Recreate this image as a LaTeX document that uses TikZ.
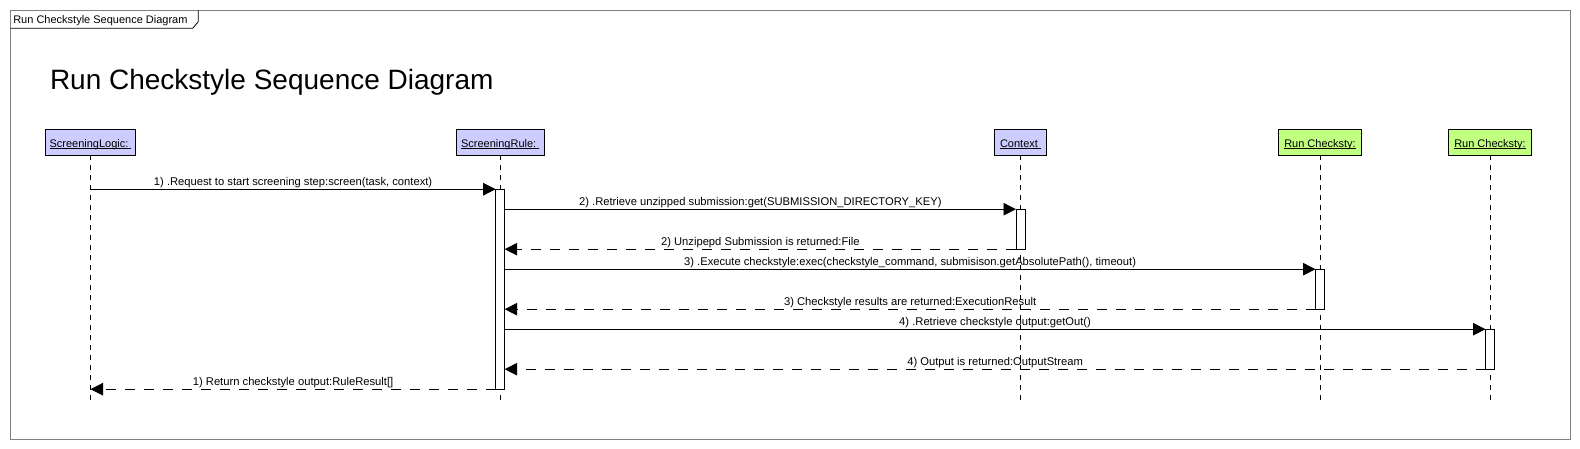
\documentclass[tikz,border=0pt]{standalone}
\usepackage{fontspec}
\setmainfont{Liberation Sans}
\usetikzlibrary{arrows.meta}
\definecolor{lav}{HTML}{CCCCFF}
\definecolor{lime}{HTML}{C0FF80}
\definecolor{framegray}{HTML}{808080}
\newcommand\ulabel[1]{\setbox0=\hbox{#1}\rlap{\rule[-1.8pt]{\wd0}{0.8pt}}\box0}
\begin{document}
\begin{tikzpicture}[x=1pt,y=-1pt,
  every node/.style={inner sep=0pt, outer sep=0pt},
  head/.style={draw=black, line width=0.8pt, minimum height=26pt, text height=10pt, text depth=0pt, font=\fontsize{11}{13}\selectfont},
  lifeline/.style={draw=black, line width=0.8pt, dash pattern=on 5pt off 5pt},
  act/.style={draw=black, fill=white, line width=0.8pt, minimum width=9pt},
  call/.style={draw=black, line width=0.8pt, -{Triangle[length=12.5pt, width=12.5pt]}},
  ret/.style={draw=black, line width=0.8pt, dash pattern=on 10pt off 9pt, -{Triangle[length=12.5pt, width=12.5pt]}},
  msg/.style={pos=0.5, anchor=base, yshift=4pt, font=\fontsize{11.2}{13}\selectfont}]
\useasboundingbox (0,0) rectangle (1580,449);
% frame
\draw[framegray, line width=0.9pt] (10.5,10.5) rectangle (1570.5,439.3);
\draw[black, line width=0.8pt] (10.5,28.3) -- (192.7,28.3) -- (198.3,21.7) -- (198.3,10.5);
\node[anchor=base west, font=\fontsize{11}{13}\selectfont] (tab) at (13.3,24) {Run Checkstyle Sequence Diagram};
\node[anchor=base west, font=\fontsize{28}{33}\selectfont] (title) at (50,89.3) {Run Checkstyle Sequence Diagram};
% heads
\node[head, fill=lav, minimum width=90.4pt] (sl) at (90.5,142.3) {\ulabel{ScreeningLogic:\ }};
\node[head, fill=lav, minimum width=87.4pt] (sr) at (500.2,142.3) {\ulabel{ScreeningRule:\ }};
\node[head, fill=lav, minimum width=52.4pt] (ctx) at (1020.5,142.3) {\ulabel{Context\ }};
\node[head, fill=lime, minimum width=83.7pt] (rc1) at (1320,142.3) {\ulabel{Run Checksty:}};
\node[head, fill=lime, minimum width=83.7pt] (rc2) at (1490,142.3) {\ulabel{Run Checksty:}};
% lifeline ends
\coordinate (sl-e) at (90.5,403);
\coordinate (sr-e) at (500.2,403);
\coordinate (ctx-e) at (1020.5,403);
\coordinate (rc1-e) at (1320,403);
\coordinate (rc2-e) at (1490,403);
\draw[lifeline] (sl.south) -- (sl-e);
\draw[lifeline] (sr.south) -- (sr-e);
\draw[lifeline] (ctx.south) -- (ctx-e);
\draw[lifeline] (rc1.south) -- (rc1-e);
\draw[lifeline] (rc2.south) -- (rc2-e);
% activations
\node[act, minimum height=200pt] (a-sr) at (500.2,289.2) {};
\node[act, minimum height=40pt] (a-ctx) at (1020.5,229.2) {};
\node[act, minimum height=40pt] (a-rc1) at (1320,289.2) {};
\node[act, minimum height=40pt] (a-rc2) at (1490,349.2) {};
\coordinate (sl-1) at (90.5,189.2);
\coordinate (sl-2) at (90.5,389.2);
% messages
\draw[call] (sl-1) -- (a-sr.north west) node[msg] {1) .Request to start screening step:screen(task, context)};
\draw[call] (a-sr.east |- a-ctx.north) -- (a-ctx.north west) node[msg] {2) .Retrieve unzipped submission:get(SUBMISSION\_DIRECTORY\_KEY)};
\draw[ret] (a-ctx.south west) -- (a-sr.east |- a-ctx.south) node[msg] {2) Unzipepd Submission is returned:File};
\draw[call] (a-sr.east |- a-rc1.north) -- (a-rc1.north west) node[msg] {3) .Execute checkstyle:exec(checkstyle\_command, submisison.getAbsolutePath(), timeout)};
\draw[ret] (a-rc1.south west) -- (a-sr.east |- a-rc1.south) node[msg] {3) Checkstyle results are returned:ExecutionResult};
\draw[call] (a-sr.east |- a-rc2.north) -- (a-rc2.north west) node[msg] {4) .Retrieve checkstyle output:getOut()};
\draw[ret] (a-rc2.south west) -- (a-sr.east |- a-rc2.south) node[msg] {4) Output is returned:OutputStream};
\draw[ret] (a-sr.south west) -- (sl-2) node[msg] {1) Return checkstyle output:RuleResult[]};
\end{tikzpicture}
\end{document}
